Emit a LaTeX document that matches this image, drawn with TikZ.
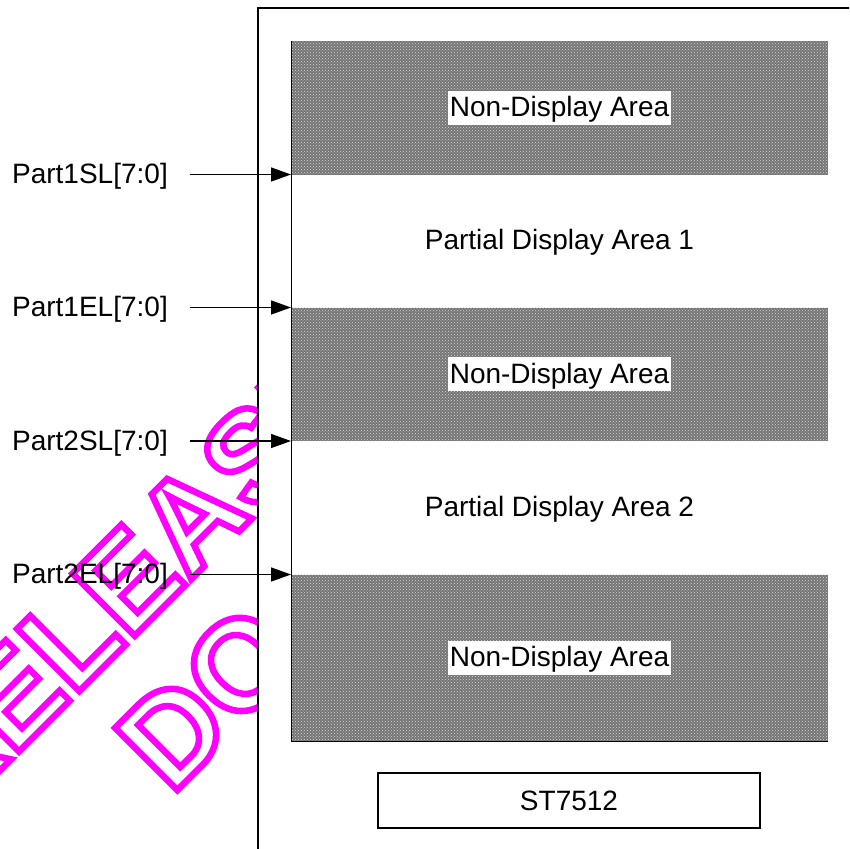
\documentclass[tikz,border=0pt]{standalone}
\usepackage{fontspec}
\setmainfont{Liberation Sans}
\usetikzlibrary{arrows.meta, patterns}
\usetikzlibrary{positioning}

\definecolor{stamp_pink}{RGB}{255,0,255}

% stroked (hollow) letters for the stamp
\newcommand{\hollowtext}[1]{%
    \special{pdf:literal direct 1 Tr 6.5 w}#1\special{pdf:literal direct 0 Tr}%
}

\tikzstyle{stamp_text} = [
    text=stamp_pink,
    font=\fontsize{128}{140}\selectfont\bfseries,
    inner sep=0pt,
    anchor=base west,
    rotate=45
]
\tikzstyle{chip_frame} = [
    draw=black,
    fill=white,
    line width=1.7pt
]
\tikzstyle{dark_band} = [
    preaction={fill=black!54},
    pattern=crosshatch dots,
    pattern color=white!85!black
]
\tikzstyle{band_label} = [
    fill=white,
    font=\fontsize{28}{34}\selectfont,
    inner xsep=1.5pt,
    inner ysep=0pt,
    text height=25.7pt,
    text depth=8.3pt
]
\tikzstyle{area_label} = [
    font=\fontsize{28}{34}\selectfont,
    inner sep=0pt,
    text height=25.7pt,
    text depth=8.3pt
]
\tikzstyle{reg_label} = [
    font=\fontsize{28}{34}\selectfont,
    inner sep=0pt,
    text height=22pt, % baseline sits 9pt under the arrow
    text depth=4pt
]
\tikzstyle{reg_arrow} = [
    -{Triangle[length=20pt, width=14pt]},
    line width=1.4pt
]
\tikzstyle{chip_name} = [
    draw=black,
    line width=1.3pt,
    font=\fontsize{28}{34}\selectfont,
    minimum width=382pt,
    minimum height=55pt,
    inner sep=0pt
]

\begin{document}
\begin{tikzpicture}[x=1pt, y=-1pt]
\useasboundingbox (0,0) rectangle (849,849);
\clip (0,0) rectangle (849,849);

% stamp behind the chip
\node [stamp_text] (stamp1) at (-52.5,823) {\hollowtext{RELEASED}};
\node [stamp_text] (stamp2) at (171.2,796.3) {\hollowtext{DOCUMENT}};

\draw [chip_frame] (258,8) rectangle (880,880);

% display rows
\path [dark_band] (291,41) rectangle (828,174.5);
\path [dark_band] (291,307.5) rectangle (828,441);
\path [dark_band] (291,574.5) rectangle (828,741);
\draw [line width=0.8pt] (291,41) -- (291,741) -- (828,741);

\node [band_label] (nd1) at (559.5,107.8) {Non-Display Area};
\node [area_label] (pd1) at (559.5,241) {Partial Display Area 1};
\node [band_label] (nd2) at (559.5,374.3) {Non-Display Area};
\node [area_label] (pd2) at (559.5,507.8) {Partial Display Area 2};
\node [band_label] (nd3) at (559.5,657.8) {Non-Display Area};

\node [chip_name] (chip) at (569,800.5) {ST7512};

% start / end line registers
\coordinate (e1s) at (291,174.5);
\coordinate (e1e) at (291,307.5);
\coordinate (e2s) at (291,441);
\coordinate (e2e) at (291,574.5);
\coordinate (t1s) at (190,174.5);
\coordinate (t1e) at (190,307.5);
\coordinate (t2s) at (190,441);
\coordinate (t2e) at (190,574.5);

\node [reg_label, left=22pt of t1s] (p1s) {Part1SL[7:0]};
\node [reg_label, left=22pt of t1e] (p1e) {Part1EL[7:0]};
\node [reg_label, left=22pt of t2s] (p2s) {Part2SL[7:0]};
\node [reg_label, left=22pt of t2e] (p2e) {Part2EL[7:0]};

\draw [reg_arrow] (t1s) -- (e1s);
\draw [reg_arrow] (t1e) -- (e1e);
\draw [reg_arrow] (t2s) -- (e2s);
\draw [reg_arrow] (t2e) -- (e2e);
\end{tikzpicture}
\end{document}
